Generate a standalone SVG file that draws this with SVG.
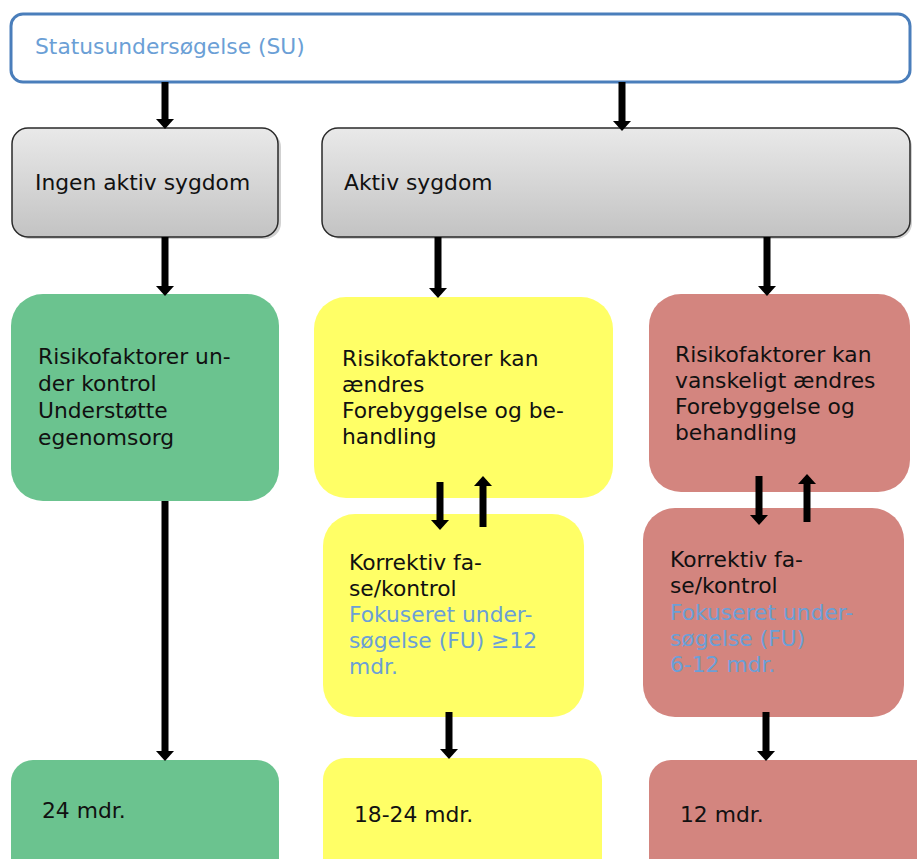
<svg xmlns="http://www.w3.org/2000/svg" width="917" height="859" viewBox="0 0 917 859">
<defs>
<linearGradient id="gray" x1="0" y1="0" x2="0" y2="1">
<stop offset="0" stop-color="#e9e9e9"/>
<stop offset="1" stop-color="#c3c3c3"/>
</linearGradient>
<marker id="ah" markerUnits="userSpaceOnUse" markerWidth="10" markerHeight="18" viewBox="0 0 10 18" refX="0" refY="9" orient="auto">
<polygon points="0,0 10,9 0,18" fill="#000"/>
</marker>
</defs>
<style>
text{font-family:"DejaVu Sans","Verdana",sans-serif;font-size:21.8px;fill:#111}
.blue{fill:#6b9fd6}
.green{fill:#6bc38f}
.yellow{fill:#ffff66}
.red{fill:#d3857f}
.grayBox{fill:url(#gray);stroke:#2a2a2a;stroke-width:1.5}
.shadow{fill:#000;opacity:0.18}
.arr{stroke:#000;stroke-width:7;fill:none;marker-end:url(#ah)}
</style>

<g id="su">
<rect x="11" y="14" width="899" height="68" rx="12" fill="#fff" stroke="#4a7ebb" stroke-width="3"/>
<text x="35" y="54" class="blue">Statusundersøgelse (SU)</text>
</g>

<g id="ingen">
<rect x="14" y="131" width="267" height="108" rx="16" class="shadow"/>
<rect x="12" y="128" width="266" height="109" rx="16" class="grayBox"/>
<text x="35" y="190">Ingen aktiv sygdom</text>
</g>

<g id="aktiv">
<rect x="325" y="131" width="587" height="108" rx="16" class="shadow"/>
<rect x="322" y="128" width="588" height="109" rx="16" class="grayBox"/>
<text x="344" y="190">Aktiv sygdom</text>
</g>

<g id="green1">
<rect x="11" y="294" width="268" height="207" rx="32" class="green"/>
<text x="38" y="364">Risikofaktorer un-</text>
<text x="38" y="391">der kontrol</text>
<text x="38" y="418">Understøtte</text>
<text x="38" y="445">egenomsorg</text>
</g>

<g id="yellow1">
<rect x="314" y="297" width="299" height="201" rx="32" class="yellow"/>
<text x="342" y="366">Risikofaktorer kan</text>
<text x="342" y="392">ændres</text>
<text x="342" y="418">Forebyggelse og be-</text>
<text x="342" y="444">handling</text>
</g>

<g id="red1">
<rect x="649" y="294" width="261" height="198" rx="32" class="red"/>
<text x="675" y="362">Risikofaktorer kan</text>
<text x="675" y="388">vanskeligt ændres</text>
<text x="675" y="414">Forebyggelse og</text>
<text x="675" y="440">behandling</text>
</g>

<g id="yellow2">
<rect x="323" y="514" width="261" height="203" rx="32" class="yellow"/>
<text x="349" y="570">Korrektiv fa-</text>
<text x="349" y="596">se/kontrol</text>
<text x="349" y="622" class="blue">Fokuseret under-</text>
<text x="349" y="648" class="blue">søgelse (FU) ≥12</text>
<text x="349" y="674" class="blue">mdr.</text>
</g>

<g id="red2">
<rect x="643" y="508" width="261" height="209" rx="32" class="red"/>
<text x="670" y="567">Korrektiv fa-</text>
<text x="670" y="593">se/kontrol</text>
<text x="670" y="620" class="blue">Fokuseret under-</text>
<text x="670" y="646" class="blue">søgelse (FU)</text>
<text x="670" y="672" class="blue">6-12 mdr.</text>
</g>

<g id="green2">
<rect x="11" y="760" width="268" height="140" rx="22" class="green"/>
<text x="42" y="818">24 mdr.</text>
</g>

<g id="yellow3">
<rect x="323" y="758" width="279" height="140" rx="22" class="yellow"/>
<text x="354" y="822">18-24 mdr.</text>
</g>

<g id="red3">
<rect x="649" y="760" width="290" height="140" rx="22" class="red"/>
<text x="680" y="822">12 mdr.</text>
</g>

<g id="connectors">
<line class="arr" x1="165" y1="82" x2="165" y2="119"/>
<line class="arr" x1="622" y1="82" x2="622" y2="121"/>
<line class="arr" x1="165" y1="237" x2="165" y2="286"/>
<line class="arr" x1="438" y1="237" x2="438" y2="288"/>
<line class="arr" x1="767" y1="237" x2="767" y2="286"/>
<line class="arr" x1="440" y1="482" x2="440" y2="520"/>
<line class="arr" x1="483" y1="527" x2="483" y2="486"/>
<line class="arr" x1="759" y1="476" x2="759" y2="515"/>
<line class="arr" x1="807" y1="522" x2="807" y2="484"/>
<line class="arr" x1="165" y1="501" x2="165" y2="751"/>
<line class="arr" x1="449" y1="712" x2="449" y2="749"/>
<line class="arr" x1="766" y1="712" x2="766" y2="751"/>
</g>
</svg>
